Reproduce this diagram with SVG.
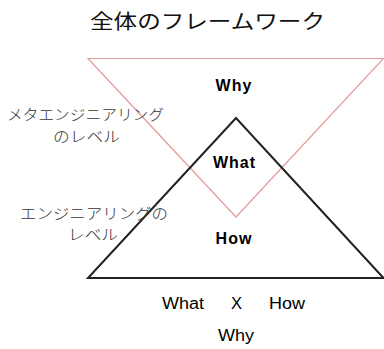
<svg xmlns="http://www.w3.org/2000/svg" width="384" height="349" viewBox="0 0 384 349">
<style>
.jp{font-family:"Noto Sans CJK JP","Noto Sans",sans-serif;fill:#333;font-weight:300}
.lbl{font-family:"Liberation Sans",Arial,sans-serif;fill:#000}
.b{font-weight:bold;font-size:16px;letter-spacing:1px}
.r{font-size:16px}
</style>
<rect width="384" height="349" fill="#fff"/>
<g id="title"><text class="jp" x="90" y="29" font-size="20" textLength="235" lengthAdjust="spacingAndGlyphs" style="fill:#111;font-weight:400">全体のフレームワーク</text></g>
<g id="connectors">
<polygon id="meta" points="88,58.5 383.5,58.5 236,217" fill="none" stroke="#E29A9A" stroke-width="1.2"/>
<polygon id="eng" points="236,118 88,278 383.5,278" fill="none" stroke="#222" stroke-width="2" stroke-linejoin="miter"/>
</g>
<g id="why"><text class="lbl b" x="234" y="91" text-anchor="middle">Why</text></g>
<g id="what"><text class="lbl b" x="234.5" y="168" text-anchor="middle">What</text></g>
<g id="how"><text class="lbl b" x="234" y="244" text-anchor="middle">How</text></g>
<g id="meta-label">
<text class="jp" x="7" y="120" font-size="15" textLength="157" lengthAdjust="spacingAndGlyphs">メタエンジニアリング</text>
<text class="jp" x="53" y="142" font-size="15" textLength="67" lengthAdjust="spacingAndGlyphs">のレベル</text>
</g>
<g id="eng-label">
<text class="jp" x="20" y="219" font-size="15" textLength="148" lengthAdjust="spacingAndGlyphs">エンジニアリングの</text>
<text class="jp" x="68" y="240" font-size="15" textLength="50" lengthAdjust="spacingAndGlyphs">レベル</text>
</g>
<g id="formula">
<text class="lbl r" x="162" y="309" textLength="42" lengthAdjust="spacingAndGlyphs">What</text>
<text class="lbl r" x="231" y="309" textLength="11" lengthAdjust="spacingAndGlyphs">X</text>
<text class="lbl r" x="269" y="309" textLength="36" lengthAdjust="spacingAndGlyphs">How</text>
<text class="lbl r" x="218" y="341" textLength="36" lengthAdjust="spacingAndGlyphs">Why</text>
</g>
</svg>
